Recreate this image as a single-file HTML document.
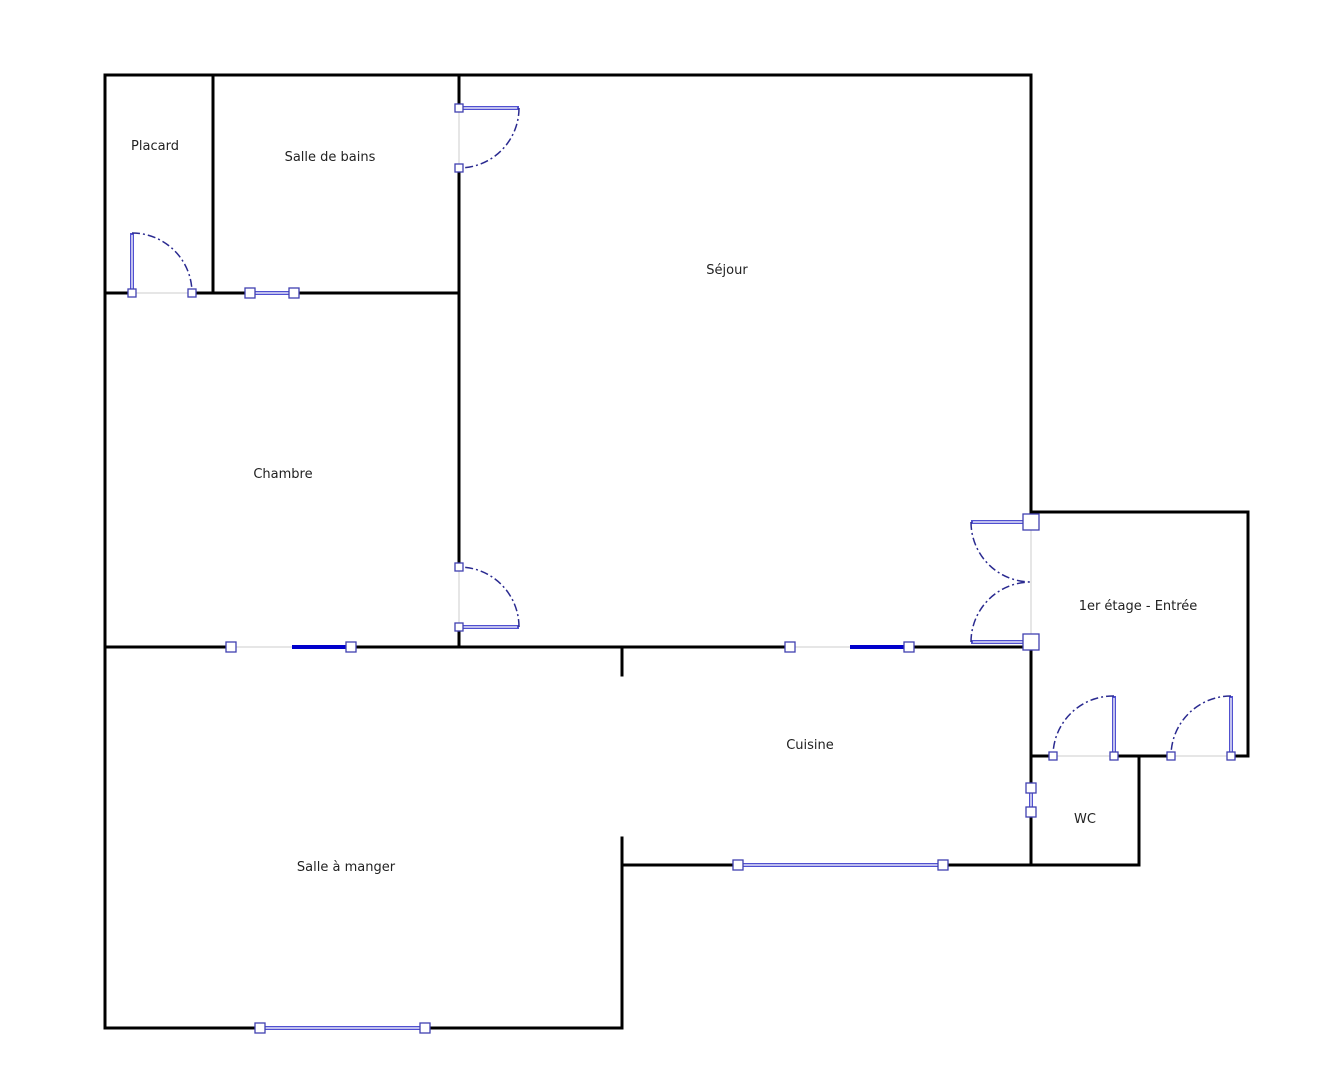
<!DOCTYPE html>
<html><head><meta charset="utf-8"><style>html,body{margin:0;padding:0;background:#fff}svg{display:block}text{font-family:"DejaVu Sans","Liberation Sans",sans-serif;font-size:13px;fill:#222}</style></head><body>
<svg width="1342" height="1080" viewBox="0 0 1342 1080" xmlns="http://www.w3.org/2000/svg">
<g stroke="#000" stroke-width="3" fill="none" stroke-linecap="square">
<path d="M105 75H1031M105 75V1028M213 75V293M105 293H459M459 75V108M459 168V567M459 627V647M1031 75V512M1031 642V865M1031 512H1248V756M1031 756H1248M1139 756V865M622 865H1139M105 647H1031M622 647V675M622 838V1028M105 1028H622"/>
</g>
<!-- gaps cleared -->
<g stroke="#fff" stroke-width="5">
<path d="M135 293H189M1053 756H1114M1171 756H1231M231 647H351M790 647H909M738 865H943M260 1028H425M250 293H294M1031 788V812"/>
</g>
<g stroke="#ccc" stroke-width="1">
<path d="M459 108V168M459 567V627M1031 522V642M132 293H192M1053 756H1114M1171 756H1231M231 647H292M790 647H850"/>
</g>
<g stroke="#0000cc" stroke-width="4"><path d="M292 647H351M850 647H909"/></g>
<!-- double-line leaves & windows -->
<g stroke="#5050d0" stroke-width="4" fill="none"><path d="M459 108H519M459 627H519M132 293V233M971 522H1031M971 642H1031M1114 756V696M1231 756V696M250 293H294M738 865H943M260 1028H425M1031 788V812"/></g>
<g stroke="#fff" stroke-width="1.3" fill="none"><path d="M461 108H517M461 627H517M132 291V235M973 522H1029M973 642H1029M1114 754V698M1231 754V698M252 293H292M740 865H941M262 1028H423M1031 790V810"/></g>
<g stroke="#2a2a90" stroke-width="1.5" fill="none" stroke-dasharray="8 3 2 3">
<path d="M519 108A60 60 0 0 1 459 168M519 627A60 60 0 0 0 459 567M132 233A60 60 0 0 1 192 293M971 522A60 60 0 0 0 1031 582M971 642A60 60 0 0 1 1031 582M1114 696A60 60 0 0 0 1053 756M1231 696A60 60 0 0 0 1171 756"/>
</g>
<g stroke="#4040b0" stroke-width="1.3" fill="#fff">
<rect x="455" y="104" width="8" height="8"/><rect x="455" y="164" width="8" height="8"/>
<rect x="455" y="563" width="8" height="8"/><rect x="455" y="623" width="8" height="8"/>
<rect x="128" y="289" width="8" height="8"/><rect x="188" y="289" width="8" height="8"/>
<rect x="245" y="288" width="10" height="10"/><rect x="289" y="288" width="10" height="10"/>
<rect x="1023" y="514" width="16" height="16"/><rect x="1023" y="634" width="16" height="16"/>
<rect x="1049" y="752" width="8" height="8"/><rect x="1110" y="752" width="8" height="8"/>
<rect x="1167" y="752" width="8" height="8"/><rect x="1227" y="752" width="8" height="8"/>
<rect x="1026" y="783" width="10" height="10"/><rect x="1026" y="807" width="10" height="10"/>
<rect x="226" y="642" width="10" height="10"/><rect x="346" y="642" width="10" height="10"/>
<rect x="785" y="642" width="10" height="10"/><rect x="904" y="642" width="10" height="10"/>
<rect x="733" y="860" width="10" height="10"/><rect x="938" y="860" width="10" height="10"/>
<rect x="255" y="1023" width="10" height="10"/><rect x="420" y="1023" width="10" height="10"/>
</g>
<text x="155" y="150" text-anchor="middle">Placard</text>
<text x="330" y="161" text-anchor="middle">Salle de bains</text>
<text x="727" y="274" text-anchor="middle">Séjour</text>
<text x="283" y="478" text-anchor="middle">Chambre</text>
<text x="1138" y="610" text-anchor="middle">1er étage - Entrée</text>
<text x="810" y="749" text-anchor="middle">Cuisine</text>
<text x="1085" y="823" text-anchor="middle">WC</text>
<text x="346" y="871" text-anchor="middle">Salle à manger</text>
</svg>
</body></html>
